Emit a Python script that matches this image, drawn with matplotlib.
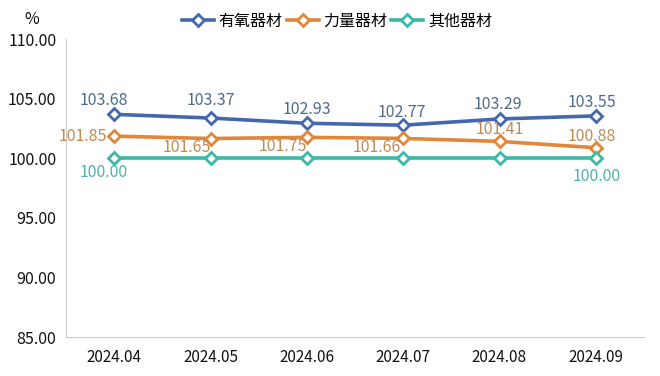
import matplotlib.pyplot as plt

plt.rcParams['font.family'] = ['Noto Sans CJK SC', 'DejaVu Sans']

months = ["2024.04", "2024.05", "2024.06", "2024.07", "2024.08", "2024.09"]
aerobic = [103.68, 103.37, 102.93, 102.77, 103.29, 103.55]
strength = [101.85, 101.65, 101.75, 101.66, 101.41, 100.88]
other = [100.00, 100.00, 100.00, 100.00, 100.00, 100.00]

names = ["有氧器材", "力量器材", "其他器材"]
colors = ["#4468AE", "#E0873A", "#3DB8A8"]
label_colors = ["#4E6B8C", "#C08A55", "#4FB0A8"]

# label offsets in pixels (dx, dy, ha)
offs = [
    [(-10, 14, "center"), (0, 18, "center"), (0, 14, "center"), (-1, 13, "center"), (-2, 14, "center"), (-4, 13, "center")],
    [(-7, 0, "right"), (-24, -9, "center"), (-24, -9, "center"), (-26, -9, "center"), (0, 12, "center"), (-4, 11, "center")],
    [(-10, -14, "center"), None, None, None, None, (1, -18, "center")],
]

fig = plt.figure(figsize=(6.6, 3.76), dpi=100)
ax = fig.add_axes([66 / 660, 39 / 376, 578 / 660, 298 / 376])

x = range(len(months))
for vals, name, c, lc, off in zip([aerobic, strength, other], names, colors, label_colors, offs):
    ax.plot(x, vals, color=c, lw=2.6, marker="D", ms=6.5, mfc="white", mec=c, mew=2, label=name)
    for i, v in enumerate(vals):
        if off[i] is None:
            continue
        dx, dy, ha = off[i]
        ax.annotate(f"{v:.2f}", (i, v), xytext=(dx, dy), textcoords="offset pixels",
                    ha=ha, va="center", fontsize=11.5, color=lc)

ax.set_xlim(-0.5, len(months) - 0.5)
ax.set_ylim(85, 110)
ax.set_yticks([85, 90, 95, 100, 105, 110])
ax.set_yticklabels([f"{t:.2f}" for t in [85, 90, 95, 100, 105, 110]], fontsize=11.5, color="#111111")
ax.set_xticks(list(x))
ax.set_xticklabels(months, fontsize=11, color="#111111")
ax.tick_params(length=0, pad=9)
ax.tick_params(axis="y", pad=7)
for s in ["top", "right"]:
    ax.spines[s].set_visible(False)
ax.spines["left"].set_color("#CCCCCC")
ax.spines["bottom"].set_color("#CCCCCC")

fig.text(32 / 660, 1 - 19 / 376, "%", ha="center", va="center", fontsize=11.5, color="#111111")

ax.legend(loc="center", bbox_to_anchor=(0.5 - 18 / 578, 1 + 18 / 298), ncol=3, frameon=False,
          fontsize=11.5, handlelength=2.0, columnspacing=0.25, handletextpad=0.3)

fig.savefig("out.png", dpi=100)
